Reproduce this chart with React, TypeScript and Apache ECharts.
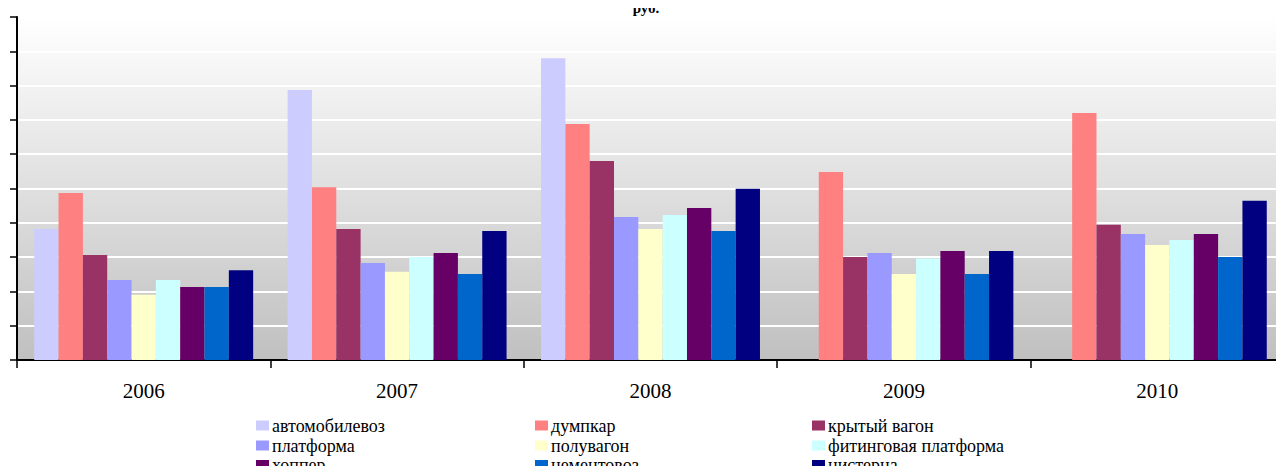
import React, { useEffect, useRef } from "react";
import * as echarts from "echarts";

const years = ["2006", "2007", "2008", "2009", "2010"];

const seriesNames = [
  "автомобилевоз",
  "думпкар",
  "крытый вагон",
  "платформа",
  "полувагон",
  "фитинговая платформа",
  "хоппер",
  "цементовоз",
  "цистерна",
];

const seriesColors = [
  "#CCCCFF",
  "#FF8080",
  "#993366",
  "#9999FF",
  "#FFFFCC",
  "#CCFFFF",
  "#660066",
  "#0066CC",
  "#000080",
];

const avtomobilevoz = [3.82, 7.87, 8.8, null, null];
const dumpkar = [4.87, 5.04, 6.88, 5.48, 7.2];
const krytyVagon = [3.06, 3.82, 5.8, 3.0, 3.94];
const platforma = [2.33, 2.83, 4.17, 3.12, 3.67];
const poluvagon = [1.9, 2.57, 3.82, 2.51, 3.35];
const fitingPlatforma = [2.33, 3.0, 4.23, 2.96, 3.5];
const hopper = [2.13, 3.12, 4.43, 3.18, 3.67];
const cementovoz = [2.13, 2.51, 3.76, 2.51, 3.0];
const cisterna = [2.62, 3.76, 4.99, 3.18, 4.64];

const seriesValues = [
  avtomobilevoz,
  dumpkar,
  krytyVagon,
  platforma,
  poluvagon,
  fitingPlatforma,
  hopper,
  cementovoz,
  cisterna,
];

const titleText = "руб.";

const legendColumns = [
  [seriesNames[0], seriesNames[3], seriesNames[6]],
  [seriesNames[1], seriesNames[4], seriesNames[7]],
  [seriesNames[2], seriesNames[5], seriesNames[8]],
];

export default function App() {
  const ref = useRef<HTMLDivElement>(null);

  useEffect(() => {
    if (!ref.current) return;
    const chart = echarts.init(ref.current, null, { renderer: "svg" });
    const font = "Liberation Serif";
    const legendLefts = [256, 535, 812];
    const rowYs = [425.5, 445.5, 465];

    const legendGraphics: any[] = [];
    legendColumns.forEach((col, ci) => {
      col.forEach((name, ri) => {
        const si = seriesNames.indexOf(name);
        legendGraphics.push({
          type: "rect",
          shape: { x: legendLefts[ci], y: rowYs[ri] - 5, width: 13, height: 10 },
          style: { fill: seriesColors[si] },
        });
        legendGraphics.push({
          type: "text",
          x: legendLefts[ci] + 16,
          y: rowYs[ri],
          style: {
            text: name,
            fontFamily: font,
            fontSize: 18,
            fill: "#000",
            textAlign: "left",
            textVerticalAlign: "middle",
          },
        });
      });
    });

    chart.setOption({
      animation: false,
      backgroundColor: "#ffffff",
      textStyle: { fontFamily: font, color: "#000" },
      graphic: [
        {
          type: "text",
          x: 646,
          y: 0,
          style: {
            text: titleText,
            fontFamily: font,
            fontWeight: "bold",
            fontSize: 15,
            fill: "#000",
            textAlign: "center",
            textVerticalAlign: "top",
          },
        },
        ...legendGraphics,
      ],
      grid: {
        left: 17,
        right: -7,
        top: 17,
        bottom: 114,
        show: true,
        borderWidth: 0,
        backgroundColor: new echarts.graphic.LinearGradient(0, 0, 0, 1, [
          { offset: 0, color: "#ffffff" },
          { offset: 1, color: "#c0c0c0" },
        ]),
        containLabel: false,
      },
      xAxis: {
        type: "category",
        data: years,
        axisLine: { show: true, lineStyle: { color: "#000", width: 2 } },
        axisTick: {
          show: true,
          length: 8,
          lineStyle: { color: "#000", width: 1.5 },
        },
        axisLabel: {
          fontFamily: font,
          fontSize: 21,
          lineHeight: 21,
          color: "#000",
          margin: 20,
        },
        splitLine: { show: false },
      },
      yAxis: {
        type: "value",
        min: 0,
        max: 10,
        interval: 1,
        axisLine: { show: true, lineStyle: { color: "#000", width: 2 } },
        axisTick: {
          show: true,
          length: 7,
          lineStyle: { color: "#000", width: 1.5 },
        },
        axisLabel: { show: false },
        splitLine: { show: true, lineStyle: { color: "#ffffff", width: 2 } },
      },
      series: seriesNames.map((name, i) => ({
        name,
        type: "bar",
        data: seriesValues[i],
        itemStyle: { color: seriesColors[i] },
        barGap: "0%",
        barCategoryGap: "13.6%",
        emphasis: { disabled: true },
      })),
    });

    return () => {
      chart.dispose();
    };
  }, []);

  return <div ref={ref} style={{ width: 1284, height: 474, margin: -8 }} />;
}
